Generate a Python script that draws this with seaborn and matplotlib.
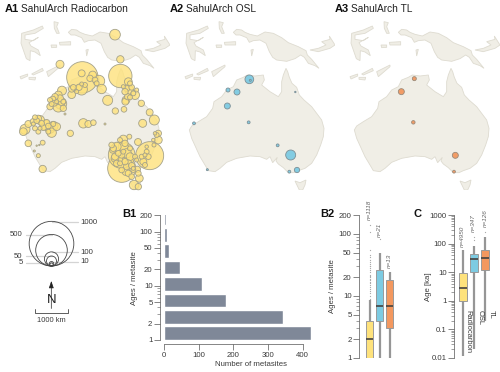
import numpy as np
import pandas as pd
import matplotlib
matplotlib.use("Agg")
import matplotlib.pyplot as plt
from matplotlib.patches import Polygon
from matplotlib.colors import to_rgba
from matplotlib.ticker import FixedLocator, FixedFormatter, NullFormatter
import seaborn as sns

sns.set_theme(style="white")
plt.rcParams["font.family"] = ["Liberation Sans", "DejaVu Sans"]

W, H = 500, 372
TXT = "#3a3a3a"
LAND = "#f0eee6"
LAND_EDGE = "#dedbd0"
BAR = "#7f8898"
YEL, BLU, ORA = "#fee27c", "#7dcbe2", "#f3985f"
METHODS = ["Radiocarbon", "OSL", "TL"]

# ---- map outlines (traced, in local map units) ----
australia = [(348,205),(353,215),(358,232),(366,250),(380,262),(388,285),(402,300),(425,320),(440,340),(455,360),
             (462,385),(460,410),(452,435),(440,465),(425,490),(405,505),(385,512),(372,518),(355,518),(340,503),
             (325,492),(318,483),(322,472),(308,488),(300,470),(290,478),(270,470),(240,468),(200,475),(170,487),
             (150,505),(135,515),(115,512),(105,495),(90,470),(75,437),(65,415),(58,390),(65,378),(85,365),
             (110,350),(128,325),(132,305),(155,290),(170,270),(190,260),(200,240),(220,232),(232,225),(255,228),
             (280,225),(283,240),(275,255),(300,275),(325,290),(335,275),(335,245),(340,225)]
tasmania = [(375,543),(390,548),(408,540),(405,555),(398,570),(388,570)]
new_guinea = [(190,97),(200,88),(215,90),(225,97),(240,103),(262,108),(285,96),(310,100),(335,113),(355,128),(385,140),
              (408,152),(412,165),(425,178),(447,205),(435,197),(415,190),(403,172),(392,165),(375,176),(350,184),
              (320,180),(308,172),(298,155),(288,130),(270,120),(250,122),(238,127),(230,113),(210,105),(198,105)]
sulawesi = [(50,100),(85,90),(112,78),(115,85),(90,100),(60,105),(60,118),(85,122),(100,112),(72,128),(78,138),
            (100,150),(106,167),(90,156),(76,152),(75,182),(64,176),(48,130)]
islands = [[(147,65),(160,68),(155,80),(163,100),(155,100),(148,85)],
           [(138,135),(155,135),(155,142),(140,143)],
           [(163,127),(197,125),(197,135),(165,135)],
           [(243,150),(250,148),(245,168)],
           [(125,215),(165,195),(165,200),(130,230)],
           [(80,222),(112,205),(115,212),(85,225)],
           [(45,230),(68,222),(68,228),(48,237)],
           [(72,232),(92,232),(90,240),(72,238)],
           [(420,150),(445,145),(468,135),(455,125),(480,118),(478,108),(495,135),(480,145),(445,155)]]

# ---- site bubbles: x, y, ages per site ----
a1_x = [330,346,165,308,290,282,263,230,230,200,200,171,155,143,135,168,160,175,331,357,370,373,360,390,363,361,409,434,448,413,
        235,250,265,300,196,180,60,85,100,105,120,135,145,140,100,155,70,113,88,100,95,103,113,320,355,373,399,460,460,323,
        335,355,365,330,340,360,370,380,397,415,430,425,455,447,363,370,380,387,400,403,400,385,232,346,434,350,350,350,
        150,160,170,165,148,175,135,155,140,205,222,240,255,270,275,230,215,365,375,380,385,395,368,355,375,
        55,70,90,95,110,125,130,115,130,145,105,85,90,
        325,340,355,375,345,385,365,350,335,410,420,425,445,450,390,395,375,330,360,345,420]
a1_y = [104,178,193,301,267,243,225,220,268,284,267,272,300,298,320,311,320,325,333,328,245,270,275,285,300,305,310,337,360,370,
        370,372,368,372,400,342,388,365,355,360,375,385,378,398,395,380,430,428,453,467,437,435,507,435,418,410,426,400,420,450,
        440,440,460,475,478,485,490,497,508,485,470,455,405,435,515,520,530,555,560,535,520,510,232,228,467,465,505,465,
        290,285,305,295,310,305,300,305,312,262,262,255,235,240,250,252,275,265,250,262,280,270,290,260,292,
        395,372,352,362,370,368,378,382,395,372,385,372,385,
        445,460,455,445,490,505,500,510,490,470,465,440,420,400,470,480,470,470,430,420,495]
a1_v = [57,27,32,50,44,65,30,24,65,30,20,40,46,20,20,65,58,20,20,16,30,40,20,40,30,24,20,24,50,32,
        44,24,16,2,20,2,50,20,20,40,50,50,44,44,12,30,22,12,2,8,1,1,27,16,35,12,24,20,30,20,
        40,50,44,30,40,20,24,20,20,24,16,12,12,8,30,20,16,44,20,30,16,12,492,273,393,356,393,20,
        20,30,30,24,16,12,12,8,12,16,20,12,20,16,12,8,8,20,12,16,12,8,20,8,12,
        30,24,12,16,16,20,16,20,12,12,8,8,12,
        20,16,12,12,12,8,20,16,20,12,8,6,6,6,12,8,30,24,20,12,12]

a2_x = [238,241,201,174,172,236,72,376,323,362,381,358,112]
a2_y = [238,241,276,270,318,367,370,276,436,465,510,515,509]
a2_v = [38,2,18,8,18,4,4,1,4,50,14,4,2]

a3_x = [238,199,235,361,357]
a3_y = [236,275,367,466,515]
a3_v = [8,18,6,18,4]

# ---- size legend ----
legend_values = [1000, 500, 100, 50, 10, 5]

# ---- B1 histogram ----
b1_bins = ["1", "2", "4", "8", "16", "32", "64", "128"]
b1_counts = [425, 345, 180, 110, 45, 15, 8, 5]

# ---- B2 boxes: min, q1, median, q3, max ----
b2_rc = [1, 1, 2, 4, 8.5]
b2_osl = [1, 4, 7, 26, 50]
b2_tl = [1, 3, 7, 18, 24]
b2_out_rc = [9,10,11,12,13,14,15,16,17,18,19,20,21,22,24,26,28,30,31,33,35,38,42,45,55,109,140]
b2_out_osl = [83]
b2_n = ["n=1118", "n=21", "n=13"]

# ---- C boxes ----
c_rc = [0.012, 1, 2.7, 9.5, 60]
c_osl = [0.02, 10, 30, 45, 80]
c_tl = [0.2, 12, 32, 60, 175]
c_out_osl = [134, 175]
c_out_tl = [260]
c_n = ["n=4950", "n=347", "n=126"]


def px_axes(fig, left, top, right, bottom):
    return fig.add_axes([left / W, 1 - bottom / H, (right - left) / W, (bottom - top) / H])


def bubble(ax, x, y, v, color, fill_alpha=0.8, ec="#a5a28a"):
    order = np.argsort(v)[::-1]
    sns.scatterplot(x=np.array(x)[order], y=np.array(y)[order], size=np.array(v)[order], sizes=(1.034, 1034),
                    size_norm=(1, 1000), color=to_rgba(color, fill_alpha), edgecolor=ec, linewidth=0.6,
                    legend=False, ax=ax, zorder=3, clip_on=False)


def draw_map(fig, off):
    ax = px_axes(fig, off, 0, off + 165, 190)
    ax.set_xlim(0, 495)
    ax.set_ylim(570, 0)
    ax.axis("off")
    for poly in [australia, tasmania, new_guinea, sulawesi] + islands:
        ax.add_patch(Polygon(poly, closed=True, fc=LAND, ec=LAND_EDGE, lw=0.6, zorder=1))
    return ax


fig = plt.figure(figsize=(W / 100, H / 100), dpi=100)

ax1 = draw_map(fig, 5)
bubble(ax1, a1_x, a1_y, a1_v, YEL)
ax2 = draw_map(fig, 170)
bubble(ax2, a2_x, a2_y, a2_v, BLU, fill_alpha=0.95, ec="#7d8f96")
ax3 = draw_map(fig, 335)
bubble(ax3, a3_x, a3_y, a3_v, ORA, fill_alpha=0.95, ec="#9a8a7a")
for a in (ax1, ax2, ax3):
    a.set_xlim(0, 495)
    a.set_ylim(570, 0)

# ---- overlay in pixel units for annotations ----
ov = fig.add_axes([0, 0, 1, 1], zorder=10)
ov.set_xlim(0, W)
ov.set_ylim(H, 0)
ov.axis("off")
ov.patch.set_alpha(0)


def t(x, y, s, **kw):
    kw.setdefault("color", TXT)
    kw.setdefault("fontsize", 5.6)
    kw.setdefault("va", "center")
    ov.text(x, y, s, **kw)


for x, tag, name in [(5, "A1", "SahulArch Radiocarbon"), (170, "A2", "SahulArch OSL"), (335, "A3", "SahulArch TL")]:
    t(x, 9.5, tag, fontsize=8, fontweight="bold", color="#111111")
    t(x + 16, 9.5, name, fontsize=7.3, color="#222222")
t(122, 214, "B1", fontsize=8, fontweight="bold", color="#111111")
t(320, 214, "B2", fontsize=8, fontweight="bold", color="#111111")
t(413, 214, "C", fontsize=8, fontweight="bold", color="#111111")

# size legend
cx, base = 51.5, 266
rs = [np.sqrt(v / 0.2228) / 3 for v in legend_values]
sns.scatterplot(x=[cx] * 6, y=[base - r for r in rs], size=legend_values, sizes=(5.17, 1034), size_norm=(5, 1000),
                facecolor="none", edgecolor="#444444", linewidth=0.6, legend=False, ax=ov, clip_on=False)
ov.set_xlim(0, W)
ov.set_ylim(H, 0)
label_pos = [(80.7, 222, "left"), (22.5, 235, "right"), (80.7, 252, "left"),
             (22.5, 256, "right"), (80.7, 261.5, "left"), (22.5, 263, "right")]
for (lx, ly, ha), v, r in zip(label_pos, legend_values, rs):
    ov.plot([cx, lx - 3 if ha == "left" else lx + 3], [ly, ly], color="#d4d4d4", lw=0.9, zorder=0)
    t(lx, ly, str(v), ha=ha, fontsize=5.6)

# north arrow and scale bar
ov.annotate("", xy=(51.3, 281), xytext=(51.3, 308.5),
            arrowprops=dict(arrowstyle="-|>,head_width=0.12,head_length=0.35", color="#222222", lw=0.5, shrinkA=0, shrinkB=0))
t(51.3, 300, "N", fontsize=9.5, ha="center", color="#222222")
ov.plot([34.7, 34.7, 68, 68], [308.7, 312.7, 312.7, 308.7], color="#444444", lw=0.6)
t(51.3, 320.7, "1000 km", ha="center", fontsize=5.4)


def style_axis(ax):
    ax.tick_params(axis="both", which="major", length=4.2, width=0.5, color="#555555", labelsize=5.6,
                   labelcolor=TXT, pad=1.2, left=True, bottom=True)
    ax.tick_params(axis="both", which="minor", length=2, width=0.4, color="#555555", left=True)
    for s in ax.spines.values():
        s.set_linewidth(0.5)
        s.set_color("#555555")


# ---- B1 ----
b1 = px_axes(fig, 164, 215.3, 315, 340)
b1_df = pd.DataFrame({"bin": b1_bins, "count": b1_counts})
sns.barplot(data=b1_df, y="bin", x="count", order=b1_bins, color=BAR, saturation=1, width=0.83, orient="h", ax=b1)
b1.set_ylim(-0.41, 7.195)
b1.set_xlim(0, 436)
b1.set_xticks([0, 100, 200, 300, 400])
b1.set_yticks([])
b1.set_xlabel("")
b1.set_ylabel("")
b1.patch.set_alpha(0)
sns.despine(ax=b1, left=True, top=True, right=True)
style_axis(b1)
b1.spines["bottom"].set_position(("outward", 2.9))
b1.spines["bottom"].set_bounds(0, 400)
b1y = px_axes(fig, 160, 215.3, 315, 340)
b1y.set_yscale("log")
b1y.set_ylim(1, 200)
b1y.patch.set_alpha(0)
b1y.set_xticks([])
b1y.set_yticks([1, 2, 5, 10, 20, 50, 100, 200])
b1y.set_yticklabels(["1", "2", "5", "10", "20", "50", "100", "200"])
b1y.yaxis.set_minor_formatter(NullFormatter())
sns.despine(ax=b1y, bottom=True, top=True, right=True)
style_axis(b1y)
t(134, 278, "Ages / metasite", rotation=90, ha="center", fontsize=5.6)
t(250.7, 365, "Number of metasites", ha="center", fontsize=5.6)


def boxes(ax, summaries, outliers, width, lim, ticks, labels):
    df = pd.DataFrame({"method": np.repeat(METHODS, 5), "value": np.concatenate(summaries)})
    sns.boxplot(data=df, x="method", y="value", order=METHODS, hue="method", hue_order=METHODS,
                palette=[YEL, BLU, ORA], saturation=1, width=width, whis=(0, 100), showfliers=False, showcaps=False,
                log_scale=True, legend=False, linecolor="#9a9a9a", linewidth=0.7,
                whiskerprops=dict(linewidth=1.6, color="#969696"),
                medianprops=dict(linewidth=1.2, color="#44423f"), ax=ax)
    out = pd.DataFrame({"method": [m for m, o in zip(METHODS, outliers) for _ in o],
                        "value": [v for o in outliers for v in o]})
    sns.stripplot(data=out, x="method", y="value", order=METHODS, jitter=False, size=0.9, color="#a8a8a8",
                  linewidth=0, ax=ax, clip_on=False)
    ax.set_yscale("log")
    ax.set_ylim(*lim)
    ax.yaxis.set_major_locator(FixedLocator(ticks))
    ax.yaxis.set_major_formatter(FixedFormatter(labels))
    ax.yaxis.set_minor_formatter(NullFormatter())
    ax.set_xticks([])
    ax.set_xlabel("")
    ax.set_ylabel("")
    ax.patch.set_alpha(0)
    sns.despine(ax=ax, bottom=True, top=True, right=True)
    style_axis(ax)


# ---- B2 ----
b2 = px_axes(fig, 359, 215.3, 400, 358)
boxes(b2, [b2_rc, b2_osl, b2_tl], [b2_out_rc, b2_out_osl, []], 0.67, (1, 200),
      [1, 2, 5, 10, 20, 50, 100, 200], ["1", "2", "5", "10", "20", "50", "100", "200"])
b2.set_xlim(-1.07, 3.03)
t(333, 286, "Ages / metasite", rotation=90, ha="center", fontsize=5.6)
for x, yb, s in zip([369, 379, 389.3], [220, 236.7, 268], b2_n):
    t(x, yb, s, rotation=90, ha="center", va="bottom", fontsize=4.6, style="italic", color="#666666")

# ---- C ----
c = px_axes(fig, 454, 215, 497, 358)
boxes(c, [c_rc, c_osl, c_tl], [[], c_out_osl, c_out_tl], 0.64, (0.01, 1000),
      [0.01, 0.1, 1, 10, 100, 1000], ["0.01", "0.1", "1", "10", "100", "1000"])
c.set_xlim(-0.82, 3.09)
t(428, 287, "Age [ka]", rotation=90, ha="center", fontsize=5.6)
for x, yb, s in zip([462.7, 473, 485], [246.7, 231.7, 226.7], c_n):
    t(x, yb, s, rotation=90, ha="center", va="bottom", fontsize=4.6, style="italic", color="#666666")
for x, s in zip([467.7, 480, 491], METHODS):
    t(x, 310, s, rotation=-90, ha="center", va="top", fontsize=5.4)

fig.savefig("out.png", dpi=100, facecolor="white")
